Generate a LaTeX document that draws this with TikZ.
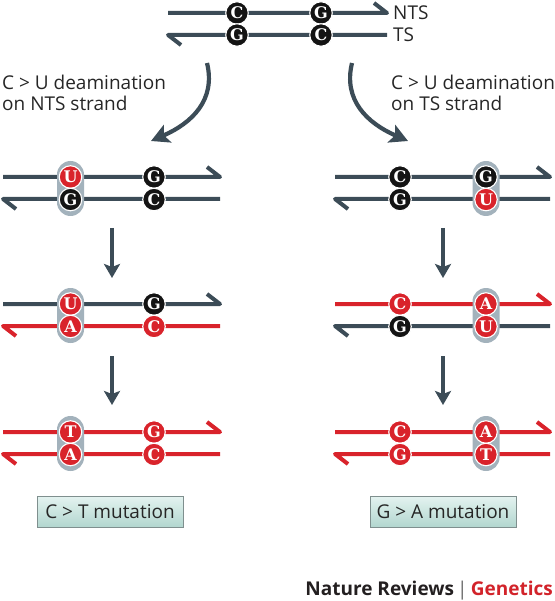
\documentclass[tikz,border=0pt]{standalone}
\usepackage{fontspec}
\setmainfont{Open Sans}
\newfontfamily\basefont{DejaVu Serif}
\usetikzlibrary{arrows.meta}
\definecolor{slate}{HTML}{3C4C57}
\definecolor{dred}{HTML}{D9232B}
\definecolor{pillc}{HTML}{A3B2BC}
\definecolor{boxtop}{HTML}{E4F3F0}
\definecolor{boxbot}{HTML}{B2D6CF}
\definecolor{boxline}{HTML}{7F8F8E}
\definecolor{nrdark}{HTML}{231F20}
\definecolor{nrred}{HTML}{D2232A}
\tikzset{
  base/.style={circle, minimum size=22.5pt, inner sep=0pt, draw=white, line width=1.1pt,
    text=white, font=\basefont\bfseries\fontsize{16}{16}\selectfont},
  bk/.style={base, fill=black!92},
  rd/.style={base, fill=dred},
  strand/.style={line width=4pt, line join=round},
  pill/.style={fill=pillc, rounded corners=13.5pt},
  varrow/.style={slate, line width=4pt, -{Stealth[length=14pt,width=16pt,inset=3pt]}},
  carrow/.style={slate, line width=4.2pt, -{Stealth[length=18pt,width=19pt,inset=4pt]}},
  lbl/.style={anchor=west, inner sep=0pt, font=\fontsize{19}{19}\selectfont, text=black!85},
  mutbox/.style={draw=boxline, line width=0.8pt, top color=boxtop, bottom color=boxbot,
    minimum width=146pt, minimum height=31pt, inner sep=0pt, font=\fontsize{19}{19}\selectfont, text=black!85}
}
\newcommand\topstrand[4]{\draw[strand,#4] (#1,#3) -- (#2,#3) -- ++(-13,-10);}
\newcommand\botstrand[4]{\draw[strand,#4] (#2,#3) -- (#1,#3) -- ++(13,10);}
\begin{document}
\begin{tikzpicture}[x=1pt,y=-1pt]
\useasboundingbox (0,0) rectangle (554,601);
% ---------- top duplex
\topstrand{168}{387}{13}{slate}
\botstrand{168}{387}{35}{slate}
\node[bk] (t1) at (237,13) {C};
\node[bk] (t2) at (321,13) {G};
\node[bk] (t3) at (237,35) {G};
\node[bk] (t4) at (321,35) {C};
\node[lbl] (nts) at (393,13) {NTS};
\node[lbl] (ts) at (393,35) {TS};
% ---------- curved arrows and labels
\coordinate (cl0) at (207,63);
\coordinate (cl1) at (151,141);
\coordinate (cr0) at (352,63);
\coordinate (cr1) at (408,141);
\draw[carrow] (cl0) .. controls (216,100) and (192,123) .. (cl1);
\draw[carrow] (cr0) .. controls (343,100) and (367,123) .. (cr1);
\node[lbl] (la1) at (2,82) {C > U deamination};
\node[lbl] (la2) at (2,103) {on NTS strand};
\node[lbl] (ra1) at (391,82) {C > U deamination};
\node[lbl] (ra2) at (391,103) {on TS strand};
% ---------- LEFT column
% row 1
\topstrand{3}{220}{177}{slate}
\botstrand{3}{220}{199}{slate}
\fill[pill] (57,161) rectangle (84,216);
\node[rd] (l11) at (70.5,177) {U};
\node[bk] (l12) at (154,177) {G};
\node[bk] (l13) at (70.5,199.5) {G};
\node[bk] (l14) at (154,199.5) {C};
% row 2
\topstrand{3}{220}{304}{slate}
\botstrand{3}{220}{326}{dred}
\fill[pill] (57,288) rectangle (84,343);
\node[rd] (l21) at (70.5,304) {U};
\node[bk] (l22) at (154,304) {G};
\node[rd] (l23) at (70.5,326.5) {A};
\node[rd] (l24) at (154,326.5) {C};
% row 3
\topstrand{3}{220}{432}{dred}
\botstrand{3}{220}{454}{dred}
\fill[pill] (57,416) rectangle (84,471);
\node[rd] (l31) at (70.5,432) {T};
\node[rd] (l32) at (154,432) {G};
\node[rd] (l33) at (70.5,454.5) {A};
\node[rd] (l34) at (154,454.5) {C};
% arrows
\coordinate (la0) at (112,228);
\coordinate (la1e) at (112,278);
\coordinate (lb0) at (112,356);
\coordinate (lb1) at (112,405);
\draw[varrow] (la0) -- (la1e);
\draw[varrow] (lb0) -- (lb1);
\node[mutbox] (lbox) at (110,511.5) {C > T mutation};
% ---------- RIGHT column
% row 1
\topstrand{335}{550}{177}{slate}
\botstrand{335}{550}{199}{slate}
\fill[pill] (472.5,161) rectangle (499.5,216);
\node[bk] (r11) at (400,177) {C};
\node[bk] (r12) at (486,177) {G};
\node[bk] (r13) at (400,199.5) {G};
\node[rd] (r14) at (486,199.5) {U};
% row 2
\topstrand{335}{550}{304}{dred}
\botstrand{335}{550}{326}{slate}
\fill[pill] (472.5,288) rectangle (499.5,343);
\node[rd] (r21) at (400,304) {C};
\node[rd] (r22) at (486,304) {A};
\node[bk] (r23) at (400,326.5) {G};
\node[rd] (r24) at (486,326.5) {U};
% row 3
\topstrand{335}{550}{432}{dred}
\botstrand{335}{550}{454}{dred}
\fill[pill] (472.5,416) rectangle (499.5,471);
\node[rd] (r31) at (400,432) {C};
\node[rd] (r32) at (486,432) {A};
\node[rd] (r33) at (400,454.5) {G};
\node[rd] (r34) at (486,454.5) {T};
% arrows
\coordinate (ra0) at (443,228);
\coordinate (ra1e) at (443,278);
\coordinate (rb0) at (443,356);
\coordinate (rb1) at (443,405);
\draw[varrow] (ra0) -- (ra1e);
\draw[varrow] (rb0) -- (rb1);
\node[mutbox] (rbox) at (443,511.5) {G > A mutation};
% ---------- credit
\node[anchor=base east, inner sep=0pt, font=\bfseries\fontsize{19}{19}\selectfont] (credit) at (553,595)
  {\textcolor{nrdark}{Nature Reviews}\,{\mdseries\textcolor{black!60}{|}}\,\textcolor{nrred}{Genetics}};
\end{tikzpicture}
\end{document}
